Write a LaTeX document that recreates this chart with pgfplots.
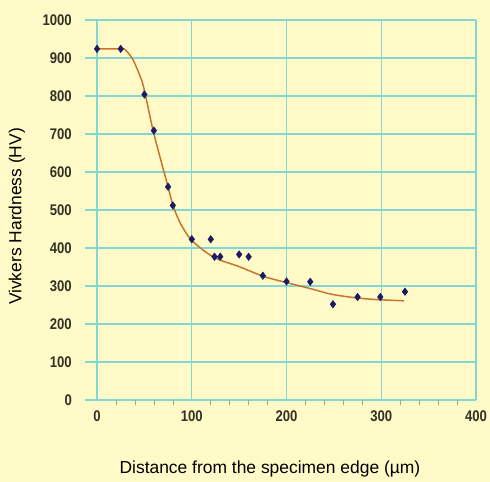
\documentclass[border=0pt]{standalone}
\usepackage{fontspec}
\setmainfont{Liberation Sans}
\newfontface\tickfont[FakeStretch=0.85]{Liberation Sans Bold}
\usepackage{pgfplots}
\pgfplotsset{compat=1.18}
\definecolor{bg}{RGB}{255,250,200}
\definecolor{gridc}{RGB}{130,214,212}
\definecolor{curvec}{RGB}{200,118,45}
\definecolor{pts}{RGB}{28,26,100}
\definecolor{tickc}{RGB}{50,50,35}
\begin{document}
\begin{tikzpicture}[x=1bp,y=1bp]
\fill[bg] (0,0) rectangle (490,482);
\begin{axis}[at={(85bp,82bp)}, anchor=south west, scale only axis,
  width=391bp, height=380bp,
  xmin=-12.7, xmax=400, ymin=0, ymax=1000,
  xtick={0,100,...,400}, ytick={0,100,...,1000},
  minor x tick num=4, minor y tick num=0,
  tick align=outside, tick pos=left,
  major tick length=0pt, minor tick length=5bp,
  minor tick style={color=tickc!45, line width=0.6bp},
  grid=major, major grid style={gridc, line width=1.2bp},
  axis line style={draw=none},
  /pgf/number format/.cd, assume math mode=true, 1000 sep={}, /pgfplots/.cd,
  ticklabel style={font=\tickfont\fontsize{15.5}{15.5}\selectfont, text=tickc},
  yticklabel style={anchor=east, inner sep=0pt, xshift=-13bp},
  xticklabel style={anchor=north, inner sep=0pt, yshift=-11bp},
  xlabel={Distance from the specimen edge (µm)},
  ylabel={Vivkers Hardness (HV)},
  xlabel style={at={(axis description cs:0.473,-0.1816)}, anchor=center, font=\fontsize{17.5}{17.5}\selectfont, text=black},
  ylabel style={at={(axis description cs:-0.174,0.483)}, anchor=center, font=\fontsize{17.5}{17.5}\selectfont, text=black},
  clip=false,
]
\addplot[curvec, line width=1.5bp, smooth, tension=0.5] coordinates {(0,924)(25,924)(30,921)(38,895)(47,842)(51,803)(59,711)(68,625)(75,561)(80,513)(88,465)(100,420)(123,376)(151,350)(176,325)(200,309)(227,292)(248,278)(276,268)(297,264)(324,261)};
\addplot[only marks, mark=diamond*, mark size=3.8bp, color=pts] coordinates {(0,924)(25,924)(50,804)(60,709)(75,561)(80,512)(100,423)(120,423)(124,377)(130,377)(150,383)(160,377)(175,327)(200,312)(225,311)(249,252)(275,271)(299,271)(325,285)};
\end{axis}
\end{tikzpicture}
\end{document}
